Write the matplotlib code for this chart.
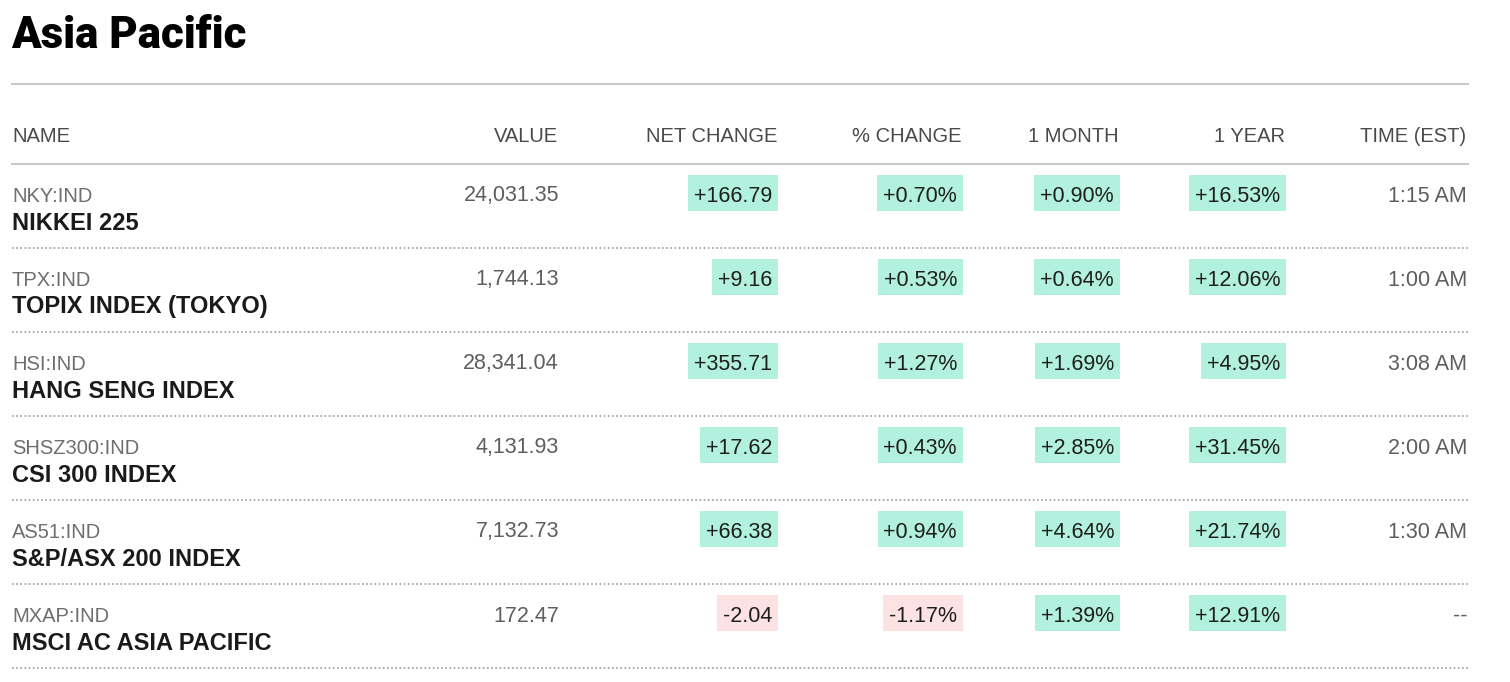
import matplotlib
matplotlib.use("Agg")
import matplotlib.pyplot as plt
from matplotlib.patches import Rectangle

title = "Asia Pacific"
headers = ["NAME", "VALUE", "NET CHANGE", "% CHANGE", "1 MONTH", "1 YEAR", "TIME (EST)"]
tickers = ["NKY:IND", "TPX:IND", "HSI:IND", "SHSZ300:IND", "AS51:IND", "MXAP:IND"]
names = ["NIKKEI 225", "TOPIX INDEX (TOKYO)", "HANG SENG INDEX", "CSI 300 INDEX",
         "S&P/ASX 200 INDEX", "MSCI AC ASIA PACIFIC"]
values = [24031.35, 1744.13, 28341.04, 4131.93, 7132.73, 172.47]
net_change = [166.79, 9.16, 355.71, 17.62, 66.38, -2.04]
pct_change = [0.70, 0.53, 1.27, 0.43, 0.94, -1.17]
month_1 = [0.90, 0.64, 1.69, 2.85, 4.64, 1.39]
year_1 = [16.53, 12.06, 4.95, 31.45, 21.74, 12.91]
times = ["1:15 AM", "1:00 AM", "3:08 AM", "2:00 AM", "1:30 AM", "--"]

W, H = 1510, 682
fig = plt.figure(figsize=(W / 100, H / 100), dpi=100)
ax = fig.add_axes([0, 0, 1, 1])
ax.set_xlim(0, W)
ax.set_ylim(H, 0)
ax.axis('off')

font = 'Liberation Sans'
green = '#b2f1dd'
red = '#fce2e2'
left, right = 12, 1468
col_right = [None, 559, 778, 963, 1120, 1286, 1467]

ax.text(left - 1, 48, title, fontsize=31.5, fontweight='black', family='Roboto',
        color='black', va='baseline', ha='left')
ax.plot([left, right], [84, 84], color='#c8c8c8', lw=1.5)

# header
for j, h in enumerate(headers):
    if j == 0:
        ax.text(left, 142.5, h, fontsize=14.5, family=font, color='#4a4a4a',
                va='baseline', ha='left')
    else:
        ax.text(col_right[j] - 1, 142.5, h, fontsize=14.5, family=font,
                color='#4a4a4a', va='baseline', ha='right')
ax.plot([left, right], [164, 164], color='#c8c8c8', lw=1.5)

fig.canvas.draw()
renderer = fig.canvas.get_renderer()

row_h = 84
top0 = 164
for i in range(len(tickers)):
    top = top0 + i * row_h
    ax.text(left, top + 37.5, tickers[i], fontsize=14.5, family=font,
            color='#6e6e6e', va='baseline', ha='left')
    ax.text(left, top + 65.5, names[i], fontsize=17, family=font,
            fontweight='bold', color='#1a1a1a', va='baseline', ha='left')
    ax.text(col_right[1], top + 37.5, f"{values[i]:,.2f}", fontsize=15.5,
            family=font, color='#5e5e5e', va='baseline', ha='right')

    cells = [f"{net_change[i]:+,.2f}", f"{pct_change[i]:+.2f}%",
             f"{month_1[i]:+.2f}%", f"{year_1[i]:+.2f}%"]
    signs = [net_change[i], pct_change[i], month_1[i], year_1[i]]
    for k, (txt, s) in enumerate(zip(cells, signs)):
        xr = col_right[k + 2]
        t = ax.text(xr - 6, top + 37.5, txt, fontsize=15.5, family=font,
                    color='#1e1e1e', va='baseline', ha='right', zorder=3)
        w = t.get_window_extent(renderer).width
        ax.add_patch(Rectangle((xr - w - 12, top + 11), w + 12, 36,
                               fc=green if s >= 0 else red, ec='none', zorder=2))

    ax.text(col_right[6], top + 37.5, times[i], fontsize=15.5, family=font,
            color='#5e5e5e', va='baseline', ha='right')
    ax.plot([left, right], [top + row_h, top + row_h], color='#9a9a9a',
            lw=1.2, linestyle=(0, (1, 1.5)))

fig.savefig("out.png", dpi=100)
